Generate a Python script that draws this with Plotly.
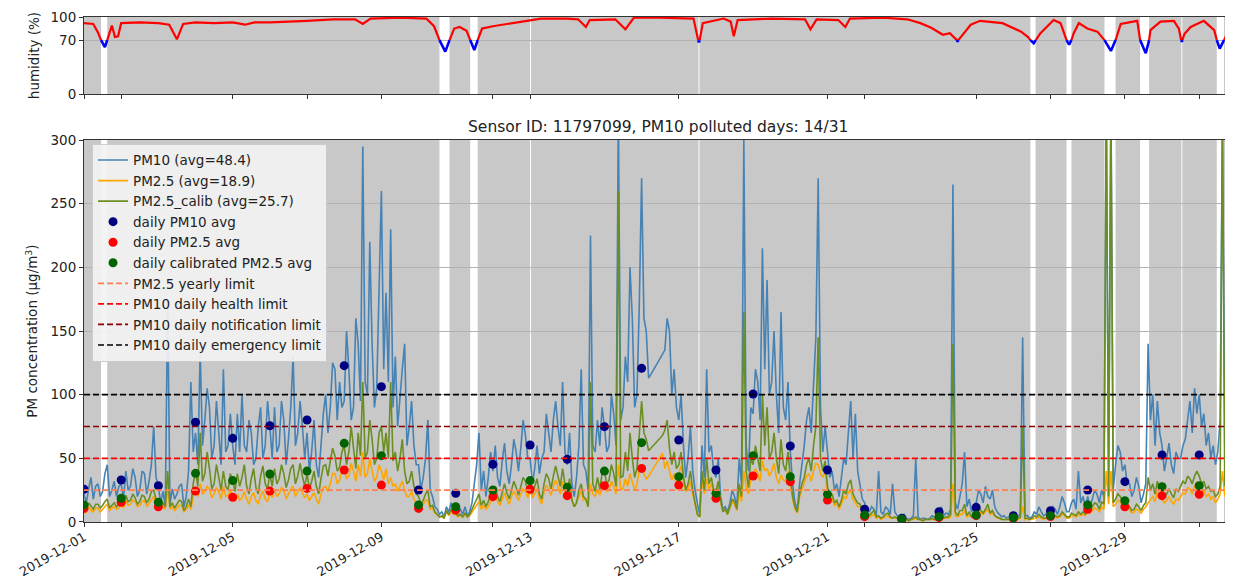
import pandas as pd
import plotly.graph_objects as go

FONT = "DejaVu Sans"

# ---------------- data ----------------
# 1.5-hourly PM samples, one row per day (16 values: 00:00, 01:30, ... 22:30)
pm10 = [
    22, 15, 26, 35, 18, 28, 30, 20, 24, 38, 45, 20, 25, 32, 20, 28,
    30, 18, 40, 25, 28, 42, 35, 20, 25, 40, 38, 22, 32, 45, 75, 35,
    28, 15, 24, 12, 175, 14, 26, 18, 22, 28, 30, 12, 20, 40, 110, 55,
    70, 45, 135, 60, 80, 105, 90, 50, 60, 95, 70, 45, 120, 55, 60, 85,
    60, 45, 85, 55, 100, 60, 55, 80, 70, 45, 50, 75, 90, 50, 60, 95,
    75, 50, 90, 55, 60, 95, 80, 45, 65, 90, 130, 60, 70, 95, 75, 50,
    70, 40, 55, 80, 45, 35, 60, 85, 100, 70, 90, 125, 120, 80, 110, 90,
    95, 150, 120, 80, 90, 160, 140, 95, 295, 110, 100, 220, 140, 90, 105, 180,
    260, 120, 180, 110, 230, 90, 130, 75, 100, 120, 140, 60, 75, 95, 60, 45,
    45, 25, 35, 50, 80, 25, 20, 12, 10, 6, 8, 4, 12, 8, 15, 10,
    15, 8, 10, 6, 12, 5, 8, 15, 30, 45, 70, 25, 40, 20, 35, 55,
    40, 60, 35, 28, 48, 62, 40, 30, 45, 65, 55, 40, 58, 80, 68, 50,
    50, 30, 42, 60, 38, 50, 55, 85, 70, 55, 80, 95, 75, 60, 110, 55,
    45, 70, 30, 20, 35, 60, 120, 45, 40, 25, 225, 60, 55, 80, 60, 90,
    75, 55, 60, 100, 85, 60, 320, 80, 90, 130, 110, 200, 160, 90, 100, 170,
    270, 160, 150, 113, 116, 119, 122, 125, 128, 131, 135, 160, 150, 100, 120, 90,
    80, 100, 60, 35, 50, 75, 40, 25, 15, 5, 60, 35, 120, 55, 60, 40,
    35, 50, 20, 10, 12, 8, 15, 25, 20, 12, 50, 30, 300, 60, 40, 90,
    85, 120, 110, 80, 215, 120, 190, 100, 110, 150, 100, 70, 165, 90, 80, 110,
    55, 30, 15, 10, 30, 45, 60, 80, 90, 70, 110, 145, 270, 90, 55, 75,
    55, 35, 40, 25, 30, 20, 35, 50, 45, 70, 95, 50, 85, 40, 30, 18,
    15, 8, 8, 12, 10, 5, 40, 8, 6, 12, 10, 6, 30, 8, 5, 4,
    4, 6, 3, 2, 3, 5, 50, 4, 2, 3, 3, 2, 3, 5, 4, 3,
    8, 12, 5, 7, 6, 10, 265, 15, 10, 20, 30, 55, 12, 18, 8, 12,
    15, 25, 22, 15, 28, 20, 18, 25, 12, 8, 6, 4, 5, 3, 4, 3,
    5, 3, 4, 6, 145, 5, 5, 3, 4, 8, 6, 12, 8, 5, 6, 10,
    8, 12, 10, 6, 12, 20, 15, 8, 8, 15, 18, 10, 40, 15, 20, 12,
    20, 12, 18, 25, 22, 15, 25, 20, 330, 30, 330, 25, 45, 60, 55, 40,
    45, 30, 30, 20, 25, 35, 28, 15, 22, 30, 140, 80, 100, 60, 95, 70,
    60, 40, 50, 62, 45, 38, 55, 50, 50, 60, 65, 80, 95, 70, 105, 85,
    100, 75, 85, 60, 70, 50, 60, 45, 55, 80, 320, 60, 200, 50, 40, 30,
]
pm25 = [
    10, 7, 12, 9, 8, 11, 11, 8, 10, 12, 14, 9, 11, 12, 10, 11,
    14, 11, 17, 13, 14, 17, 16, 12, 13, 16, 17, 12, 15, 18, 20, 15,
    13, 10, 12, 10, 28, 10, 12, 9, 11, 13, 13, 8, 10, 13, 10, 20,
    25, 20, 30, 22, 24, 28, 26, 19, 22, 27, 24, 18, 28, 20, 21, 25,
    20, 16, 22, 17, 19, 24, 18, 14, 20, 23, 17, 14, 21, 24, 18, 16,
    24, 19, 26, 20, 22, 27, 25, 18, 22, 26, 28, 20, 24, 27, 23, 19,
    22, 17, 20, 23, 18, 14, 22, 27, 28, 24, 30, 38, 38, 30, 33, 40,
    42, 34, 36, 46, 40, 32, 45, 36, 55, 35, 38, 50, 40, 32, 35, 45,
    40, 33, 42, 30, 35, 28, 30, 24, 28, 32, 25, 20, 20, 24, 18, 15,
    16, 12, 14, 17, 17, 10, 11, 7, 6, 4, 4, 3, 8, 5, 9, 6,
    6, 4, 5, 4, 6, 4, 5, 8, 10, 13, 16, 10, 13, 10, 12, 16,
    17, 21, 16, 13, 19, 23, 18, 14, 20, 24, 21, 17, 22, 26, 24, 19,
    26, 19, 22, 26, 18, 14, 24, 29, 26, 21, 28, 33, 28, 22, 32, 24,
    22, 27, 17, 12, 16, 20, 24, 17, 18, 12, 30, 22, 20, 26, 21, 28,
    30, 24, 25, 32, 28, 22, 45, 26, 26, 34, 28, 38, 32, 25, 30, 40,
    45, 38, 34, 36, 39, 42, 44, 47, 51, 54, 42, 48, 40, 33, 38, 30,
    38, 44, 32, 24, 26, 32, 22, 14, 6, 4, 34, 22, 34, 26, 30, 22,
    20, 26, 15, 8, 10, 6, 12, 16, 14, 9, 24, 16, 40, 28, 22, 34,
    35, 42, 38, 32, 48, 40, 42, 36, 40, 46, 35, 30, 37, 33, 32, 40,
    30, 18, 10, 7, 20, 25, 30, 36, 38, 32, 40, 46, 45, 38, 35, 40,
    22, 16, 18, 13, 15, 10, 14, 20, 18, 24, 24, 18, 15, 12, 12, 8,
    6, 4, 4, 5, 6, 3, 4, 2, 3, 4, 5, 3, 3, 3, 3, 2,
    2, 2, 2, 1, 2, 2, 3, 2, 2, 1, 2, 2, 2, 2, 2, 2,
    4, 5, 3, 3, 3, 4, 30, 5, 4, 6, 6, 9, 4, 5, 4, 4,
    6, 9, 7, 6, 8, 10, 6, 7, 5, 3, 3, 2, 2, 2, 2, 2,
    3, 2, 2, 3, 12, 2, 3, 2, 2, 3, 3, 4, 3, 2, 3, 4,
    3, 4, 4, 3, 4, 6, 5, 3, 3, 5, 5, 4, 6, 5, 6, 5,
    10, 7, 9, 11, 10, 8, 12, 10, 40, 14, 40, 12, 14, 17, 16, 13,
    14, 11, 10, 7, 8, 10, 9, 7, 10, 12, 15, 18, 20, 16, 24, 18,
    18, 15, 17, 20, 16, 14, 18, 17, 20, 23, 22, 27, 26, 22, 28, 31,
    28, 23, 25, 20, 22, 18, 20, 15, 18, 22, 40, 20, 30, 18, 16, 13,
]
pm25_calib = [
    13, 9, 15, 12, 10, 14, 14, 11, 13, 16, 18, 11, 13, 15, 12, 14,
    17, 13, 21, 16, 17, 22, 19, 14, 16, 21, 20, 15, 18, 24, 25, 18,
    16, 11, 15, 12, 40, 12, 15, 11, 14, 17, 16, 9, 12, 18, 12, 30,
    40, 28, 70, 32, 38, 55, 42, 26, 30, 45, 35, 25, 40, 28, 25, 38,
    32, 24, 38, 28, 35, 45, 28, 22, 34, 42, 27, 22, 36, 44, 30, 26,
    38, 28, 42, 30, 34, 45, 38, 27, 33, 42, 45, 30, 36, 46, 36, 28,
    38, 26, 32, 40, 28, 22, 34, 44, 45, 36, 48, 58, 52, 40, 43, 55,
    60, 45, 55, 75, 58, 42, 70, 52, 110, 50, 55, 80, 65, 45, 50, 70,
    75, 55, 70, 50, 110, 48, 55, 40, 50, 65, 40, 30, 32, 40, 28, 22,
    20, 14, 17, 22, 25, 12, 13, 8, 6, 4, 5, 3, 9, 6, 10, 7,
    7, 5, 6, 4, 7, 4, 6, 10, 13, 18, 22, 13, 17, 12, 16, 22,
    22, 28, 20, 16, 24, 30, 23, 18, 25, 32, 27, 21, 28, 35, 32, 24,
    32, 22, 28, 34, 22, 18, 30, 38, 34, 26, 36, 44, 36, 28, 42, 30,
    25, 34, 17, 12, 15, 25, 30, 20, 18, 12, 110, 30, 24, 35, 26, 38,
    40, 30, 33, 45, 38, 28, 260, 35, 36, 55, 40, 70, 50, 35, 42, 65,
    95, 70, 65, 56, 58, 60, 62, 64, 66, 68, 72, 80, 58, 45, 55, 42,
    45, 55, 36, 25, 30, 40, 25, 15, 6, 4, 40, 25, 50, 30, 35, 25,
    24, 32, 17, 8, 10, 6, 13, 18, 16, 10, 30, 20, 165, 40, 27, 50,
    45, 60, 50, 40, 100, 60, 90, 50, 55, 70, 50, 38, 65, 45, 40, 55,
    35, 20, 12, 8, 22, 30, 35, 45, 50, 40, 60, 75, 145, 50, 40, 48,
    28, 20, 22, 15, 17, 12, 17, 25, 22, 30, 33, 22, 18, 15, 14, 10,
    8, 5, 5, 7, 9, 4, 5, 3, 4, 6, 7, 4, 3, 4, 3, 2,
    2, 3, 2, 1, 2, 3, 4, 2, 2, 1, 2, 2, 2, 3, 2, 2,
    5, 7, 3, 4, 4, 6, 140, 8, 5, 9, 9, 14, 5, 8, 4, 6,
    7, 12, 9, 7, 10, 14, 7, 9, 5, 4, 3, 2, 2, 2, 2, 2,
    3, 2, 3, 4, 75, 3, 3, 2, 3, 5, 4, 6, 4, 3, 3, 5,
    4, 6, 5, 4, 5, 8, 6, 4, 4, 7, 6, 5, 8, 6, 8, 6,
    13, 9, 12, 15, 14, 10, 16, 14, 330, 20, 330, 15, 18, 22, 20, 16,
    18, 14, 12, 9, 10, 14, 12, 9, 13, 15, 35, 25, 30, 22, 32, 26,
    24, 20, 22, 26, 22, 19, 26, 24, 28, 32, 30, 36, 34, 30, 36, 40,
    36, 30, 32, 26, 28, 24, 25, 20, 22, 28, 320, 28, 145, 25, 22, 18,
]

daily_pm10 = [25.7, 33, 28.5, 78.3, 65.7, 75.6, 80.1, 122.8, 106.3, 25.1, 22.5,
              45.3, 60.5, 49.2, 74.9, 120.7, 64.4, 40.8, 100.5, 59.7, 40.8,
              10, 2.9, 8.1, 11.5, 5, 8.9, 25.1, 31.7, 52.6, 52.6]
daily_pm25 = [10.7, 15.5, 12, 24.3, 19.4, 24.3, 26.4, 40.8, 29, 10.7, 9.4,
              19.9, 25.7, 20.7, 28.5, 42.1, 29, 18.6, 36.1, 31.7, 17.3,
              4.2, 2, 3.5, 5, 2.8, 4.3, 10, 12, 20.7, 21.7]
daily_calib = [13.4, 18.6, 15.5, 38.2, 32.5, 37.7, 40, 61.8, 52.1, 13.4, 12,
               25.1, 32.5, 27.2, 40, 62.3, 35.6, 22.5, 52.1, 35.6, 21.7,
               5.5, 2.1, 4.2, 5.5, 3.4, 5, 13.4, 16.7, 27.7, 28.5]

limit_names = ["PM2.5 yearly limit", "PM10 daily health limit",
               "PM10 daily notification limit", "PM10 daily emergency limit"]
limit_values = [25, 50, 75, 100]
limit_colors = ["coral", "red", "darkred", "black"]

hum_time = [
    "12-01 00:00", "12-01 06:00", "12-01 09:00", "12-01 11:00", "12-01 13:30",
    "12-01 15:00", "12-01 18:00", "12-01 20:00", "12-01 22:00", "12-02 00:00",
    "12-02 12:00", "12-03 00:00", "12-03 07:00", "12-03 12:00", "12-03 16:00",
    "12-04 00:00", "12-04 12:00", "12-05 00:00", "12-05 08:00", "12-05 14:00",
    "12-06 00:00", "12-07 00:00", "12-07 17:00", "12-08 07:00", "12-08 12:00",
    "12-08 17:00", "12-09 12:00", "12-10 05:00", "12-10 10:00", "12-10 13:30",
    "12-10 17:15", "12-10 20:00", "12-10 23:00", "12-11 02:30", "12-11 07:00",
    "12-11 09:20", "12-11 12:00", "12-11 14:10", "12-11 17:00", "12-12 00:00",
    "12-12 12:00", "12-12 21:30", "12-13 07:00", "12-14 00:00", "12-14 07:00",
    "12-14 12:00", "12-14 14:30", "12-15 07:00", "12-15 13:30", "12-15 19:00",
    "12-16 12:00", "12-17 09:30", "12-17 12:30", "12-17 13:00", "12-17 13:30",
    "12-17 15:30", "12-18 05:00", "12-18 09:30", "12-18 11:30", "12-18 14:00",
    "12-19 12:00", "12-20 09:30", "12-20 13:00", "12-20 17:00", "12-21 07:00",
    "12-21 11:30", "12-21 14:30", "12-22 12:00", "12-23 03:30", "12-23 12:00",
    "12-23 19:00", "12-24 02:30", "12-24 07:00", "12-24 11:30", "12-24 12:00",
    "12-24 12:30", "12-24 14:30", "12-24 20:30", "12-25 02:30", "12-25 12:00",
    "12-25 17:00", "12-26 05:00", "12-26 09:30", "12-26 11:00", "12-26 13:10",
    "12-26 14:30", "12-26 17:30", "12-27 02:00", "12-27 06:30", "12-27 10:20",
    "12-27 12:00", "12-27 13:30", "12-27 15:00", "12-27 18:15", "12-27 23:45",
    "12-28 06:15", "12-28 10:50", "12-28 15:00", "12-28 18:00", "12-28 21:20",
    "12-29 08:00", "12-29 09:50", "12-29 13:30", "12-29 15:40", "12-29 16:30",
    "12-29 23:00", "12-30 07:40", "12-30 10:50", "12-30 12:20", "12-30 12:45",
    "12-30 13:10", "12-30 14:25", "12-30 18:30", "12-31 03:00", "12-31 09:40",
    "12-31 11:20", "12-31 13:15", "12-31 16:00", "12-31 17:15", "12-31 21:10",
]
hum_value = [
    92, 91, 80, 70, 61,
    70, 89, 74, 75, 92,
    93, 92, 90, 71, 91,
    93, 92, 93, 90, 93,
    93, 95, 97, 97, 91,
    98, 99, 98, 88, 70,
    55, 70, 85, 87, 82,
    70, 57, 70, 85, 88,
    92, 95, 98, 98, 97,
    87, 96, 97, 84, 99,
    99, 98, 70, 67, 70,
    92, 98, 94, 75, 96,
    98, 97, 84, 97, 96,
    87, 98, 99, 97, 92,
    86, 77, 79, 70, 68,
    70, 75, 90, 95, 93,
    92, 81, 74, 70, 66,
    70, 79, 96, 92, 70,
    64, 70, 79, 92, 85,
    81, 70, 56, 70, 91,
    95, 70, 53, 70, 83,
    94, 95, 85, 70, 68,
    70, 78, 87, 95, 83,
    70, 59, 70, 75, 85,
]

# time windows with low humidity (no grey shading)
gap_start = ["12-01 11:00", "12-10 13:30", "12-11 09:20", "12-13 00:00", "12-17 12:45",
             "12-26 11:00", "12-27 10:20", "12-28 10:50", "12-29 09:50", "12-30 12:30",
             "12-31 11:20"]
gap_end = ["12-01 15:00", "12-10 20:00", "12-11 14:10", "12-13 00:35", "12-17 13:20",
           "12-26 14:20", "12-27 13:30", "12-28 18:00", "12-29 15:40", "12-30 13:05",
           "12-31 16:00"]

tick_dates = ["2019-12-01", "2019-12-05", "2019-12-09", "2019-12-13",
              "2019-12-17", "2019-12-21", "2019-12-25", "2019-12-29"]
minor_dates = ["2019-12-02", "2019-12-07", "2019-12-12", "2019-12-22",
               "2019-12-27", "2019-12-31"]

title_text = "Sensor ID: 11797099, PM10 polluted days: 14/31"

# ---------------- build ----------------
t = pd.date_range("2019-12-01", periods=len(pm10), freq="90min")
days = pd.date_range("2019-12-01", periods=len(daily_pm10), freq="D")
ht = pd.to_datetime(["2019-" + s for s in hum_time])
x0, x1 = "2019-12-01 00:00", "2019-12-31 21:10"

fig = go.Figure()

fig.add_trace(go.Scatter(x=t, y=pm10, mode="lines", name="PM10 (avg=48.4)",
                         line=dict(color="steelblue", width=1.6), legendgroup="a"))
fig.add_trace(go.Scatter(x=t, y=pm25, mode="lines", name="PM2.5 (avg=18.9)",
                         line=dict(color="orange", width=1.6), legendgroup="b"))
fig.add_trace(go.Scatter(x=t, y=pm25_calib, mode="lines", name="PM2.5_calib (avg=25.7)",
                         line=dict(color="olivedrab", width=1.6), legendgroup="c"))
fig.add_trace(go.Scatter(x=days, y=daily_pm10, mode="markers", name="daily PM10 avg",
                         marker=dict(color="navy", size=9), legendgroup="d"))
fig.add_trace(go.Scatter(x=days, y=daily_pm25, mode="markers", name="daily PM2.5 avg",
                         marker=dict(color="red", size=9), legendgroup="e"))
fig.add_trace(go.Scatter(x=days, y=daily_calib, mode="markers",
                         name="daily calibrated PM2.5 avg",
                         marker=dict(color="darkgreen", size=9), legendgroup="f"))
for i, (nm, v, c) in enumerate(zip(limit_names, limit_values, limit_colors)):
    fig.add_trace(go.Scatter(x=[x0, x1], y=[v, v], mode="lines", name=nm,
                             line=dict(color=c, width=1.7, dash="6px,3px"),
                             legendgroup="g%d" % i))

# humidity: red when >= 70, blue when <= 70
hum_hi = [h if h >= 70 else None for h in hum_value]
hum_lo = [h if h <= 70 else None for h in hum_value]
fig.add_trace(go.Scatter(x=ht, y=hum_hi, mode="lines", line=dict(color="red", width=2.2),
                         xaxis="x2", yaxis="y2", showlegend=False, connectgaps=False))
fig.add_trace(go.Scatter(x=ht, y=hum_lo, mode="lines", line=dict(color="blue", width=2.6),
                         xaxis="x2", yaxis="y2", showlegend=False, connectgaps=False))

shapes = []
for s, e in zip(gap_start, gap_end):
    for xr, yr in (("x", "y domain"), ("x2", "y2 domain")):
        shapes.append(dict(type="rect", xref=xr, yref=yr, x0="2019-" + s, x1="2019-" + e,
                           y0=0, y1=1, fillcolor="white", line=dict(width=0), layer="below"))

axis_common = dict(showline=True, mirror=True, linecolor="#333333", linewidth=1,
                   ticks="outside", ticklen=4, tickcolor="#333333", automargin=False)
tickfont = dict(family=FONT, size=13.5, color="#222222")

# the page body has an 8px default margin: the figure is sized to fit the window
fig.update_layout(
    width=1225, height=574,
    margin=dict(l=76, r=1, t=9, b=60),
    paper_bgcolor="white", plot_bgcolor="#c8c8c8",
    font=dict(family=FONT, size=13.5, color="#222222"),
    shapes=shapes,
    xaxis=dict(domain=[0, 1], anchor="y", range=[x0, x1], type="date",
               tickvals=tick_dates, ticktext=tick_dates, tickangle=-30,
               tickfont=dict(family=FONT, size=12.8, color="#222222"),
               ticklabelstandoff=-2,
               showgrid=False, zeroline=False,
               minor=dict(tickvals=minor_dates, ticks="outside", ticklen=4,
                          tickcolor="#333333", showgrid=False),
               **axis_common),
    yaxis=dict(domain=[0, 0.7564], anchor="x", range=[0, 300],
               tickvals=[0, 50, 100, 150, 200, 250, 300], tickfont=tickfont,
               showgrid=True, gridcolor="#b2b2b2", gridwidth=1, zeroline=False,
               title=dict(text="PM concentration (μg/m<sup>3</sup>)", standoff=9,
                          font=dict(family=FONT, size=13.5)),
               **axis_common),
    xaxis2=dict(domain=[0, 1], anchor="y2", range=[x0, x1], type="date", matches="x",
                tickvals=tick_dates, showticklabels=False, showgrid=False, zeroline=False,
                minor=dict(tickvals=minor_dates, ticks="outside", ticklen=4,
                           tickcolor="#333333", showgrid=False),
                **axis_common),
    yaxis2=dict(domain=[0.8475, 1], anchor="x2", range=[0, 100],
                tickvals=[0, 70, 100], tickfont=tickfont,
                showgrid=True, gridcolor="#b2b2b2",
                gridwidth=1, zeroline=False,
                title=dict(text="humidity (%)", standoff=7,
                           font=dict(family=FONT, size=13.5)),
                **axis_common),
    legend=dict(x=0.007, y=0.749, xanchor="left", yanchor="top",
                bgcolor="rgba(242,242,242,0.92)", bordercolor="#cccccc", borderwidth=1,
                font=dict(family=FONT, size=13.5, color="#222222"),
                tracegroupgap=0, traceorder="grouped"),
    annotations=[dict(text=title_text, xref="paper", yref="paper", x=0.5, y=0.782,
                      xanchor="center", yanchor="middle", showarrow=False,
                      font=dict(family=FONT, size=15.5, color="#222222"))],
)

fig.write_html("out.html")
